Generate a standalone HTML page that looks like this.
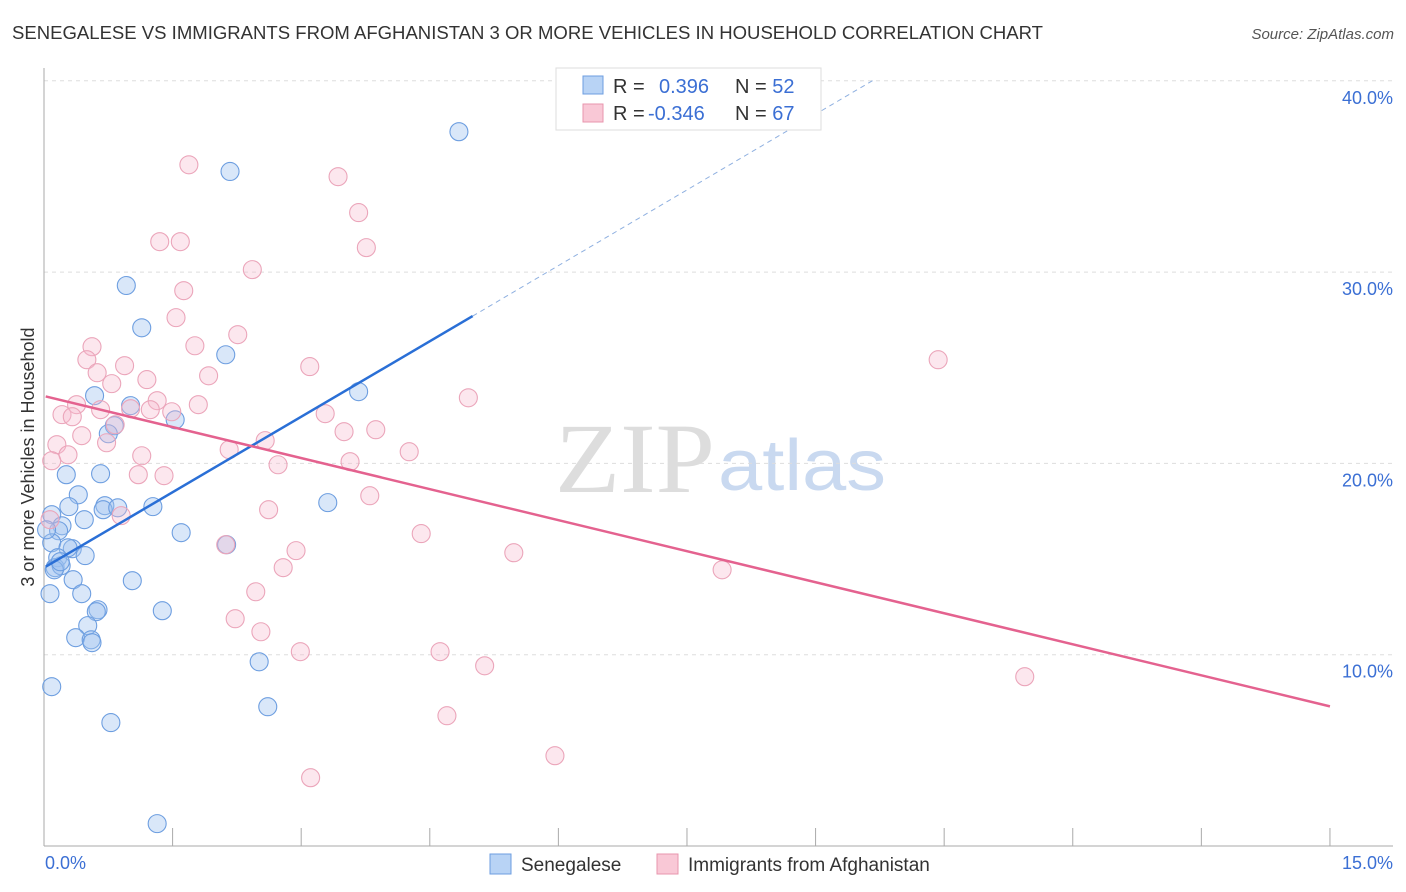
<!DOCTYPE html>
<html><head><meta charset="utf-8">
<style>
body{margin:0;background:#fff;font-family:"Liberation Sans",sans-serif;}
#wrap{position:relative;width:1406px;height:892px;overflow:hidden;}
</style></head>
<body><div id="wrap">
<svg id="svg" width="1406" height="892">
<text x="12" y="39" font-size="18" fill="#333" textLength="1031" lengthAdjust="spacingAndGlyphs">SENEGALESE VS IMMIGRANTS FROM AFGHANISTAN 3 OR MORE VEHICLES IN HOUSEHOLD CORRELATION CHART</text>
<text x="1394" y="39" font-size="15" fill="#555" font-style="italic" text-anchor="end">Source: ZipAtlas.com</text>
<text x="715" y="492" font-size="100" fill="#ddd" text-anchor="end" textLength="160" lengthAdjust="spacingAndGlyphs" font-family="Liberation Serif,serif">ZIP</text>
<text x="718" y="490" font-size="72" fill="#c9d9f0" textLength="168" lengthAdjust="spacingAndGlyphs">atlas</text>
<g id="grid"></g><g id="marks"></g><g id="lines"></g>
<text transform="translate(34,457) rotate(-90)" font-size="18" fill="#333" text-anchor="middle">3 or more Vehicles in Household</text>
<text x="45" y="869" font-size="18" fill="#3b6fd4">0.0%</text>
<text x="1393" y="869" font-size="18" fill="#3b6fd4" text-anchor="end">15.0%</text>
<g>
<rect x="556" y="68" width="265" height="62" fill="#fff" stroke="#ddd"/>
<rect x="583" y="76" width="20" height="18" fill="#b8d3f5" stroke="#6d9ee0"/>
<rect x="583" y="104" width="20" height="18" fill="#f9c8d6" stroke="#e896ad"/>
<text x="613" y="93" font-size="20" fill="#333">R = <tspan fill="#3b6fd4" x="659">0.396</tspan><tspan x="735" fill="#333">N = </tspan><tspan fill="#3b6fd4">52</tspan></text>
<text x="613" y="120" font-size="20" fill="#333">R = <tspan fill="#3b6fd4" x="648">-0.346</tspan><tspan x="735" fill="#333">N = </tspan><tspan fill="#3b6fd4">67</tspan></text>
</g>
<g>
<rect x="490" y="854" width="21" height="20" fill="#b8d3f5" stroke="#6d9ee0"/>
<text x="521" y="871" font-size="19" fill="#333">Senegalese</text>
<rect x="657" y="854" width="21" height="20" fill="#f9c8d6" stroke="#e896ad"/>
<text x="688" y="871" font-size="19" fill="#333">Immigrants from Afghanistan</text>
</g>
</svg>
<script>
const blueX=[4.84,2.17,0.96,1.14,2.12,3.67,0.59,1.01,1.53,0.82,0.75,0.26,0.66,0.40,0.29,0.71,0.69,0.86,1.27,3.31,0.09,0.47,0.21,0.17,1.60,2.13,0.09,0.33,0.28,0.16,0.48,0.13,0.20,0.34,1.03,0.07,0.44,0.63,0.61,1.38,0.51,0.37,0.55,0.56,2.51,0.09,2.61,0.78,1.32,0.03,0.12,0.19];
const blueY=[37.34,35.26,29.30,27.09,25.68,23.75,23.54,23.02,22.28,21.97,21.55,19.41,19.46,18.36,17.74,17.79,17.58,17.68,17.74,17.95,17.32,17.06,16.74,16.48,16.38,15.75,15.85,15.54,15.59,15.07,15.18,14.55,14.65,13.92,13.87,13.19,13.19,12.35,12.25,12.30,11.52,10.89,10.78,10.63,9.63,8.33,7.28,6.45,1.17,16.53,14.44,14.86];
const pinkX=[1.69,3.43,3.67,1.59,1.35,3.76,2.43,1.63,1.54,2.26,0.56,1.76,0.50,3.10,0.94,10.43,0.62,1.92,0.79,1.20,4.95,0.38,1.32,1.80,0.66,1.01,0.21,0.33,1.24,1.49,3.28,3.50,3.87,0.44,2.58,0.73,0.15,0.83,2.16,4.26,0.28,0.09,1.14,3.57,2.73,1.40,1.10,3.80,2.62,0.90,0.07,4.40,2.12,2.94,5.48,2.79,7.91,2.47,2.23,2.53,2.99,4.62,5.14,11.44,4.70,5.96,3.11];
const pinkY=[35.61,34.99,33.11,31.59,31.59,31.28,30.13,29.03,27.62,26.73,26.10,26.15,25.42,25.06,25.11,25.42,24.74,24.58,24.17,24.38,23.43,23.07,23.28,23.07,22.81,22.86,22.55,22.44,22.81,22.70,22.60,21.66,21.76,21.45,21.19,21.08,20.98,22.02,20.72,20.61,20.45,20.14,20.40,20.09,19.93,19.36,19.41,18.31,17.58,17.27,17.06,16.33,15.75,15.44,15.33,14.55,14.44,13.29,11.88,11.20,10.16,10.16,9.42,8.85,6.81,4.72,3.57];
const yTicks=[10,20,30,40];
const yTickLabels=["10.0%","20.0%","30.0%","40.0%"];
const xTicks=[0,1.5,3,4.5,6,7.5,9,10.5,12,13.5,15];
const blueTrend=[0.02,14.6,5.0,27.7,9.7,40.1];
const pinkTrend=[0.02,23.5,15,7.3];
const X=v=>44+v*85.73, Y=v=>846-v*19.13;
const NS="http://www.w3.org/2000/svg";
function mk(tag,attrs,parent){const e=document.createElementNS(NS,tag);for(const k in attrs)e.setAttribute(k,attrs[k]);parent.appendChild(e);return e;}
const grid=document.getElementById('grid'),marks=document.getElementById('marks'),lines=document.getElementById('lines');
yTicks.forEach((t,i)=>{
 const g=mk('line',{x1:44,x2:1393,y1:Y(t),y2:Y(t),stroke:'#ddd','stroke-dasharray':'4,4'},grid);
 
 
 const tx=mk('text',{x:1393,y:Y(t)+23,'font-size':18,fill:'#3b6fd4','text-anchor':'end'},grid);
 tx.textContent=yTickLabels[i];
 
 
});
const ax=mk('line',{x1:44,x2:1393,y1:846,y2:846,stroke:'#aaa'},grid);


const ay=mk('line',{x1:44,x2:44,y1:68,y2:846,stroke:'#aaa'},grid);


xTicks.forEach(t=>{
 const l=mk('line',{x1:X(t),x2:X(t),y1:828,y2:846,stroke:'#aaa'},grid);
 
 
});
blueX.forEach((x,i)=>{
 const c=mk('circle',{cx:X(x),cy:Y(blueY[i]),r:9,fill:'rgba(160,196,240,0.4)',stroke:'#6d9ee0','stroke-width':1.1},marks);
 
 
});
pinkX.forEach((x,i)=>{
 const c=mk('circle',{cx:X(x),cy:Y(pinkY[i]),r:9,fill:'rgba(247,185,205,0.35)',stroke:'#eba5ba','stroke-width':1.1},marks);
 
 
});
const b1=mk('line',{x1:X(blueTrend[0]),y1:Y(blueTrend[1]),x2:X(blueTrend[2]),y2:Y(blueTrend[3]),stroke:'#2a6fd6','stroke-width':2.5},lines);


const b2=mk('line',{x1:X(blueTrend[2]),y1:Y(blueTrend[3]),x2:X(blueTrend[4]),y2:Y(blueTrend[5]),stroke:'#8fb0e0','stroke-width':1,'stroke-dasharray':'5,4'},lines);


const p1=mk('line',{x1:X(pinkTrend[0]),y1:Y(pinkTrend[1]),x2:X(pinkTrend[2]),y2:Y(pinkTrend[3]),stroke:'#e4628f','stroke-width':2.5},lines);


</script>
</div></body></html>
